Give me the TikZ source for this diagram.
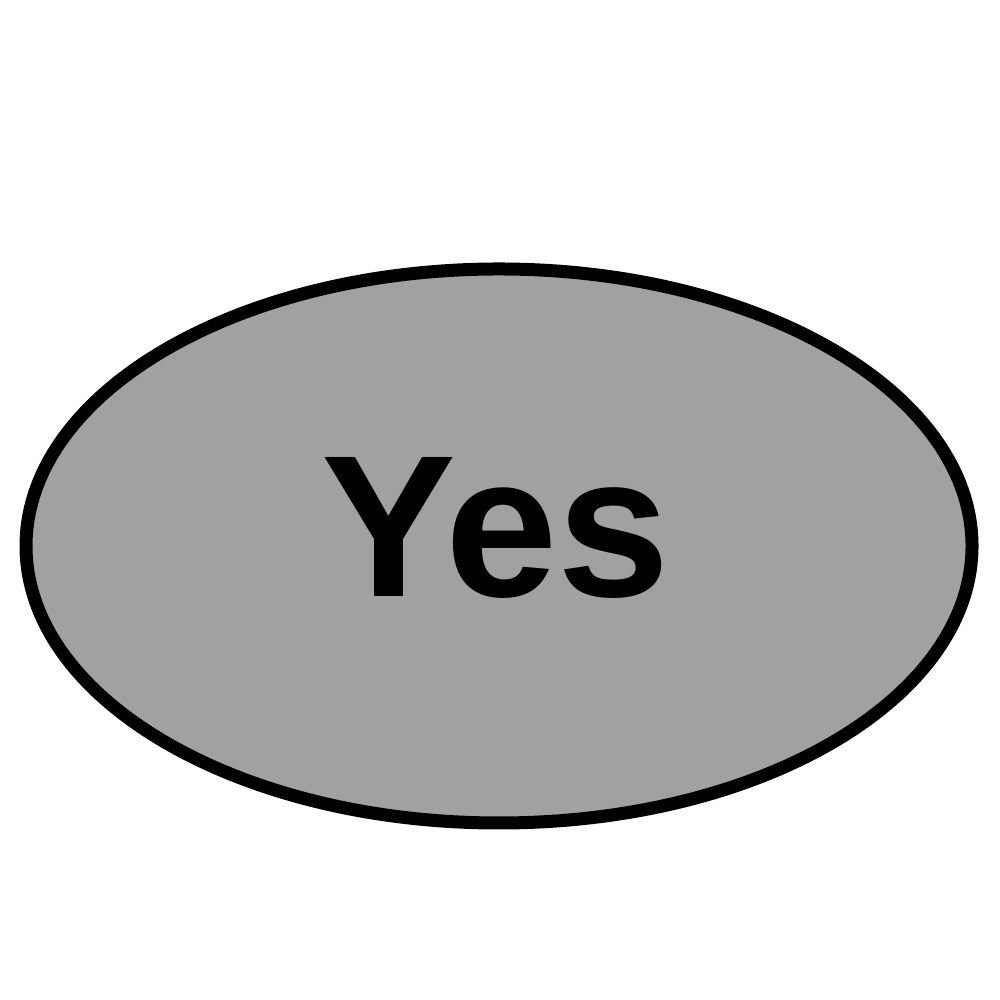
\documentclass[tikz,border=0pt]{standalone}
\usepackage{fontspec}
\setmainfont{Liberation Sans}
\definecolor{ovalgray}{HTML}{A1A1A1}
\tikzset{oval/.style={draw=black,fill=ovalgray,line width=0.13cm}}
\begin{document}
\begin{tikzpicture}
\useasboundingbox (0,0) rectangle (10,10);
\path[oval] (4.99,4.54) ellipse [x radius=4.73, y radius=2.77];
\node[inner sep=0pt,anchor=base] (yes) at (4.96,4.03) {\fontsize{57.5}{60}\selectfont\bfseries Yes};
\end{tikzpicture}
\end{document}
